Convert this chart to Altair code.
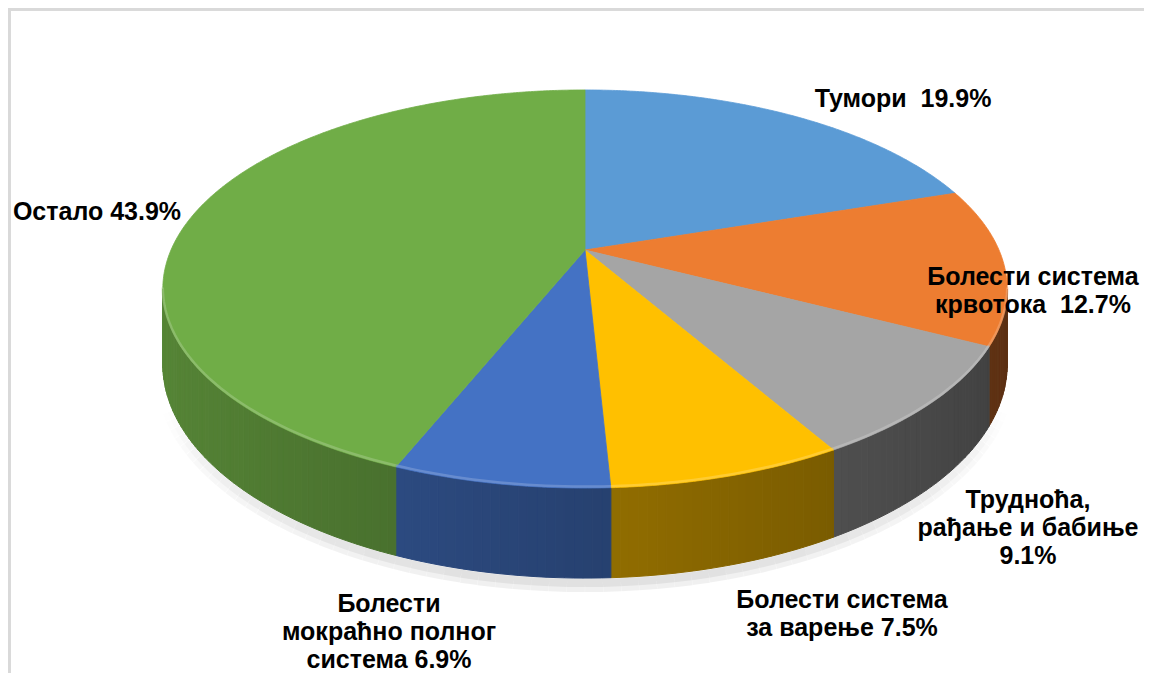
import altair as alt
import numpy as np
import pandas as pd

# ---------------- data ----------------
categories = [
    "Тумори",
    "Болести система крвотока",
    "Трудноћа, рађање и бабиње",
    "Болести система за варење",
    "Болести мокраћно полног система",
    "Остало",
]
values = [19.9, 12.7, 9.1, 7.5, 6.9, 43.9]
top_colors = ["#5B9BD5", "#ED7D31", "#A5A5A5", "#FFC000", "#4472C4", "#70AD47"]
label_texts = [
    "Тумори\u00a0 19.9%",
    "Болести система\nкрвотока\u00a0 12.7%",
    "Трудноћа,\nрађање и бабиње\n9.1%",
    "Болести система\nза варење 7.5%",
    "Болести\nмокраћно полног\nсистема 6.9%",
    "Остало 43.9%",
]

# ---------------- layout (pixel space of the page) ----------------
label_pos = [(903, 107), (1033, 285), (1028, 508), (842, 608), (389, 612), (97, 220)]
CX, CY = 585.0, 250.0      # apex of the pie on screen
A, B, K = 414.0, 191.4, 0.196  # semi-axes and perspective factor
DEPTH = 72.4               # thickness of the disk


def proj(theta_deg, down=False):
    t = np.radians(theta_deg)
    u, v = np.sin(t), -np.cos(t)
    s = 1.0 / (1.0 - K * v)
    x = CX + A * u * s
    y = CY + B * v * s
    if down:
        y = y + DEPTH * s
    return x, y


def shade(hexcol, f):
    h = hexcol.lstrip("#")
    r, g, b = (int(h[i:i + 2], 16) for i in (0, 2, 4))
    if f <= 1:
        r, g, b = (int(c * f) for c in (r, g, b))
    else:
        r, g, b = (int(c + (255 - c) * (f - 1)) for c in (r, g, b))
    return "#%02x%02x%02x" % (r, g, b)


total = sum(values)
bounds = np.concatenate([[0], np.cumsum(values)]) / total * 360.0
vis_lo = np.degrees(np.arccos(-K))
vis_hi = 360.0 - vis_lo

top_rows, side_rows, rim_rows = [], [], []
for i, (cat, col) in enumerate(zip(categories, top_colors)):
    a0, a1 = bounds[i], bounds[i + 1]
    # top face polygon
    n = max(4, int((a1 - a0) / 0.5))
    pts = [(CX, CY)] + [proj(t) for t in np.linspace(a0, a1, n)]
    for j, (x, y) in enumerate(pts):
        top_rows.append({"poly": f"t{i}", "o": j, "x": x, "y": y, "col": col})
    # visible side
    s0, s1 = max(a0, vis_lo), min(a1, vis_hi)
    if s1 > s0:
        m = max(2, int((s1 - s0) / 1.0))
        ts = np.linspace(s0, s1, m + 1)
        for j in range(m):
            tm = 0.5 * (ts[j] + ts[j + 1])
            f = 0.58 - 0.2 * np.sin(np.radians(tm))
            c = shade(col, f)
            quad = [proj(ts[j]), proj(ts[j + 1]), proj(ts[j + 1], True), proj(ts[j], True)]
            for q, (x, y) in enumerate(quad):
                side_rows.append({"poly": f"s{i}_{j}", "o": q, "x": x, "y": y, "col": c})
        for j, t in enumerate(ts):
            x, y = proj(t)
            rim_rows.append({"seg": f"r{i}", "o": j, "x": x, "y": y - 1.5, "col": shade(col, 1.35)})

# soft shadow under the front edge, fading towards both ends
shadow_rows = []
sh_t = np.linspace(112, 248, 69)
for j in range(len(sh_t) - 1):
    w = np.sin(np.pi * (j + 0.5) / (len(sh_t) - 1)) ** 0.7
    for q, t in enumerate((sh_t[j], sh_t[j + 1])):
        xb, yb = proj(t, True)
        shadow_rows.append({"seg": f"sh{j}", "o": q, "x": xb, "y": yb + 5, "op": 0.06 * w})

top_df = pd.DataFrame(top_rows)
side_df = pd.DataFrame(side_rows)
rim_df = pd.DataFrame(rim_rows)
shadow_df = pd.DataFrame(shadow_rows)
lab_df = pd.DataFrame({
    "text": label_texts,
    "x": [p[0] for p in label_pos],
    "y": [p[1] for p in label_pos],
})

W, H = 1136, 665
xs = alt.Scale(domain=[8, 8 + W], nice=False, zero=False)
ys = alt.Scale(domain=[8, 8 + H], nice=False, zero=False, reverse=True)
X = alt.X("x:Q", scale=xs, axis=None)
Y = alt.Y("y:Q", scale=ys, axis=None)

shadow1 = alt.Chart(shadow_df).mark_line(color="#000000", strokeWidth=18, strokeCap="butt").encode(
    x=X, y=Y, detail="seg:N", order="o:Q", opacity=alt.Opacity("op:Q", scale=None))
shadow2 = alt.Chart(shadow_df).mark_line(color="#000000", strokeWidth=8, strokeCap="butt").encode(
    x=X, y=Y, detail="seg:N", order="o:Q", opacity=alt.Opacity("op:Q", scale=None))

side = alt.Chart(side_df).mark_line(filled=True, interpolate="linear-closed", strokeWidth=1).encode(
    x=X, y=Y, detail="poly:N", order="o:Q",
    color=alt.Color("col:N", scale=None), stroke=alt.Stroke("col:N", scale=None))

top = alt.Chart(top_df).mark_line(filled=True, interpolate="linear-closed", strokeWidth=0.8).encode(
    x=X, y=Y, detail="poly:N", order="o:Q",
    color=alt.Color("col:N", scale=None), stroke=alt.Stroke("col:N", scale=None))

rim = alt.Chart(rim_df).mark_line(strokeWidth=2.5, opacity=0.55).encode(
    x=X, y=Y, detail="seg:N", order="o:Q", color=alt.Color("col:N", scale=None))

labels = alt.Chart(lab_df).mark_text(
    font="Liberation Sans", fontSize=25, fontWeight="bold", color="#000000",
    lineBreak="\n", lineHeight=28, baseline="alphabetic", align="center").encode(
    x=X, y=Y, text="text:N")

border_top = alt.Chart(lab_df).mark_rule(color="#d9d9d9", strokeWidth=3).encode(
    x=alt.value(0), x2=alt.value(W), y=alt.value(1))
border_left = alt.Chart(lab_df).mark_rule(color="#d9d9d9", strokeWidth=3).encode(
    x=alt.value(1), y=alt.value(0), y2=alt.value(H))

chart = alt.layer(shadow1, shadow2, side, top, rim, labels, border_top, border_left).properties(
    width=W, height=H, padding=0, autosize="none", background="#ffffff"
).configure_view(stroke=None)

chart.save("out.html", embed_options={"renderer": "svg", "actions": False})
